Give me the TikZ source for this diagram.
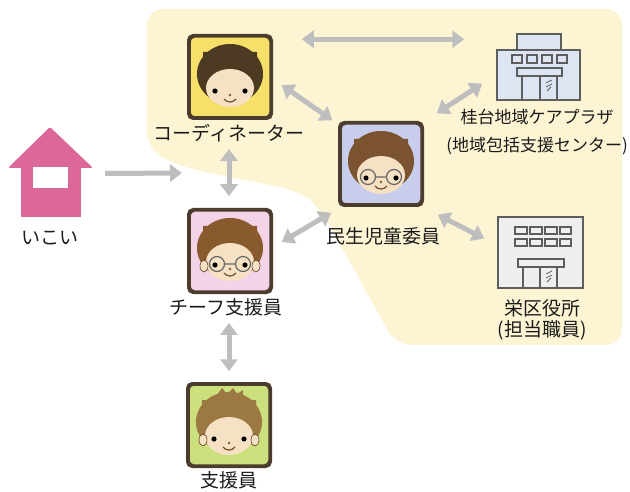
\documentclass[tikz,border=0pt]{standalone}
\usepackage{fontspec}
\setmainfont{Noto Sans CJK JP}
\usetikzlibrary{arrows.meta}

\definecolor{couleurzone}{HTML}{FDF4D3}
\definecolor{couleurlien}{HTML}{BEBEBE}
\definecolor{couleurmaison}{HTML}{DC6899}
\definecolor{couleurcadre}{HTML}{4B3C2E}
\definecolor{couleurpeau}{HTML}{F6E1C4}
\definecolor{couleurjaune}{HTML}{F7E06A}
\definecolor{couleurrose}{HTML}{F3D3E7}
\definecolor{couleurbleu}{HTML}{C8CDEB}
\definecolor{couleurvert}{HTML}{CCDF7D}
\definecolor{cheveuxfonc}{HTML}{4D3A22}
\definecolor{cheveuxchat}{HTML}{8A5A2F}
\definecolor{cheveuxmoye}{HTML}{7B5330}
\definecolor{cheveuxclai}{HTML}{9C7842}
\definecolor{couleurbati}{HTML}{5E5E5E}
\definecolor{couleurvitr}{HTML}{DCE5F1}
\definecolor{couleurmurs}{HTML}{EFEFEF}
\definecolor{couleurtext}{HTML}{1A1A1A}
\newcommand{\lienfleche}[2]{\draw[lien, ->] (#1) -- (#2);}
\newcommand{\liendouble}[2]{\draw[lien, <->] (#1) -- (#2);}
% visage dans une icone : #1 noeud, #2 cheveux, #3 extras
\newcommand{\visage}[3]{
	\begin{scope}[shift={(#1.center)}]
		\clip[rounded corners=4pt] (-39,-39) rectangle (39,39);
		\fill[#2] (0,-3) ellipse [x radius=33, y radius=30];
		\fill[couleurpeau] (0,11) ellipse [x radius=24, y radius=19];
		\fill[#2] (-27,8) .. controls (-25,-12) and (-8,-16) .. (3,-11) .. controls (14,-8) and (24,-4) .. (27,8) -- (27,-25) -- (-27,-25) -- cycle;
		\fill[black] (-15,14) circle (2.6) (15,14) circle (2.6);
		\fill[brown!70!black] (0,18) circle (1.4);
		\draw[brown!60!black, line width=1.2pt] (-6,22) .. controls (-3,26) and (3,26) .. (6,22);
		#3
	\end{scope}
}
\tikzset{
		lien/.style={draw=couleurlien, line width=5pt, >={Triangle[length=12pt, width=17pt]}},
		etiquette/.style={font=\fontsize{19}{20}\selectfont, text=couleurtext, inner sep=0pt},
		icone/.style={draw=couleurcadre, line width=2.5pt, rounded corners=5pt, minimum size=81pt, inner sep=0pt},
		batiment/.style={draw=couleurbati, line width=1.5pt, inner sep=0pt},
		fenetre/.style={draw=couleurbati, line width=1.2pt},
		lunettes/.style={draw=gray!80!black, line width=1.2pt},
		oreilles/.style={fill=couleurpeau, draw=brown!50!black, line width=0.6pt}
	}

\begin{document}
\begin{tikzpicture}[x=1pt, y=-1pt]
		\useasboundingbox (0,0) rectangle (630,492);
		% zone du reseau
		\fill[couleurzone, rounded corners=16pt] (147,9) -- (622,9) -- (622,345) -- (396,345) -- (322,212) .. controls (290,180) and (200,180) .. (147,148) -- cycle;

		% maison
		\node[fill=couleurmaison, minimum width=60pt, minimum height=49pt, inner sep=0pt] (ikoi) at (51,192.5) {};
		\fill[couleurmaison, rounded corners=1.5pt] (8,168) -- (50,127) -- (93,168) -- cycle;
		\fill[white] (33,167) rectangle (68,188);
		\node[etiquette] (lbikoi) at (50,238) {いこい};
		\coordinate (entree) at (182,173);

		% personnes
		\node[icone, fill=couleurjaune] (coordntr) at (230,77) {};
		\node[etiquette] (lbcoordn) at (229,133) {コーディネーター};
		\node[icone, fill=couleurrose] (chefsupp) at (230,251) {};
		\node[etiquette] (lbchefsp) at (226,307) {チーフ支援員};
		\node[icone, fill=couleurvert] (supportr) at (229,425) {};
		\node[etiquette] (lbsupprt) at (229,480) {支援員};
		\node[icone, fill=couleurbleu] (minsei) at (381,164) {};
		\node[etiquette] (lbminsei) at (383,236) {民生児童委員};

		\visage{coordntr}{cheveuxfonc}{}
		\visage{chefsupp}{cheveuxchat}{
			\fill[oreilles] (-26,15) ellipse [x radius=4, y radius=6] (26,15) ellipse [x radius=4, y radius=6];
			\draw[lunettes] (-13,13) circle (7.5) (13,13) circle (7.5) (-5.5,13) -- (5.5,13);}
		\visage{supportr}{cheveuxclai}{
			\fill[cheveuxclai] (-12,-30) -- (-7,-37) -- (-2,-31) -- (4,-37) -- (8,-31) -- (14,-35) -- (14,-28) -- cycle;
			\fill[oreilles] (-26,15) ellipse [x radius=4, y radius=6] (26,15) ellipse [x radius=4, y radius=6];}
		\visage{minsei}{cheveuxmoye}{
			\draw[lunettes] (-13,13) circle (7.5) (13,13) circle (7.5) (-5.5,13) -- (5.5,13);}
		% redessiner les cadres
		\draw[icone] (coordntr.north west) rectangle (coordntr.south east);
		\draw[icone] (chefsupp.north west) rectangle (chefsupp.south east);
		\draw[icone] (supportr.north west) rectangle (supportr.south east);
		\draw[icone] (minsei.north west) rectangle (minsei.south east);

		% ケアプラザ
		\draw[batiment, fill=couleurvitr] (517,34) rectangle (561,50);
		\node[batiment, fill=couleurvitr, minimum width=83pt, minimum height=50pt] (careplaz) at (538.5,75) {};
		\draw[fenetre] (512,55) rectangle (522,63) (527,55) rectangle (537,63) (542,55) rectangle (552,63) (557,55) rectangle (567,63);
		\draw[fenetre] (517,68) rectangle (562,76);
		\draw[fenetre] (522,76) -- (522,100) (540,76) -- (540,100) (557,76) -- (557,100);
		\draw[fenetre, line width=0.8pt] (546,83) -- (552,80) (546,87) -- (552,84) (547,91) -- (551,87);
		\node[etiquette, font=\fontsize{17}{18}\selectfont] (lbcarepl) at (537,117) {桂台地域ケアプラザ};
		\node[etiquette, font=\fontsize{17}{18}\selectfont] (lbcentre) at (537,146) {(地域包括支援センター)};

		% 区役所
		\node[batiment, fill=couleurmurs, minimum width=85pt, minimum height=71pt] (wardoffc) at (540.5,252.5) {};
		\draw[fenetre] (515,227) rectangle (527,234) (530,227) rectangle (542,234) (545,227) rectangle (557,234) (560,227) rectangle (571,234);
		\draw[fenetre] (515,239) rectangle (527,246) (530,239) rectangle (542,246) (545,239) rectangle (557,246) (560,239) rectangle (571,246);
		\draw[fenetre] (518,259) rectangle (564,267);
		\draw[fenetre] (523,267) -- (523,288) (540,267) -- (540,288) (557,267) -- (557,288);
		\draw[fenetre, line width=0.8pt] (546,274) -- (552,271) (546,278) -- (552,275) (547,282) -- (551,278);
		\node[etiquette] (lbwardof) at (542,308) {栄区役所};
		\node[etiquette] (lbtanto) at (542,330) {(担当職員)};

		% Liens
		\lienfleche{[shift={(24,-19)}]ikoi.east}{entree}
		\liendouble{[shift={(0,7)}]lbcoordn.south}{[shift={(-1,-13)}]chefsupp.north}
		\liendouble{[shift={(3,7)}]lbchefsp.south}{[shift={(0,-12)}]supportr.north}
		\liendouble{[shift={(30,4)}]coordntr.north east}{[shift={(-32,-10)}]careplaz.north west}
		\liendouble{[shift={(10,8)}]coordntr.east}{[shift={(-7,-2)}]minsei.north west}
		\liendouble{[shift={(10,-9)}]chefsupp.east}{[shift={(-8,7)}]minsei.south west}
		\liendouble{[shift={(14,-9)}]minsei.north east}{[shift={(-14,-17)}]careplaz.south west}
		\liendouble{[shift={(15,9)}]minsei.south east}{[shift={(-13,-14)}]wardoffc.west}
	\end{tikzpicture}
\end{document}
